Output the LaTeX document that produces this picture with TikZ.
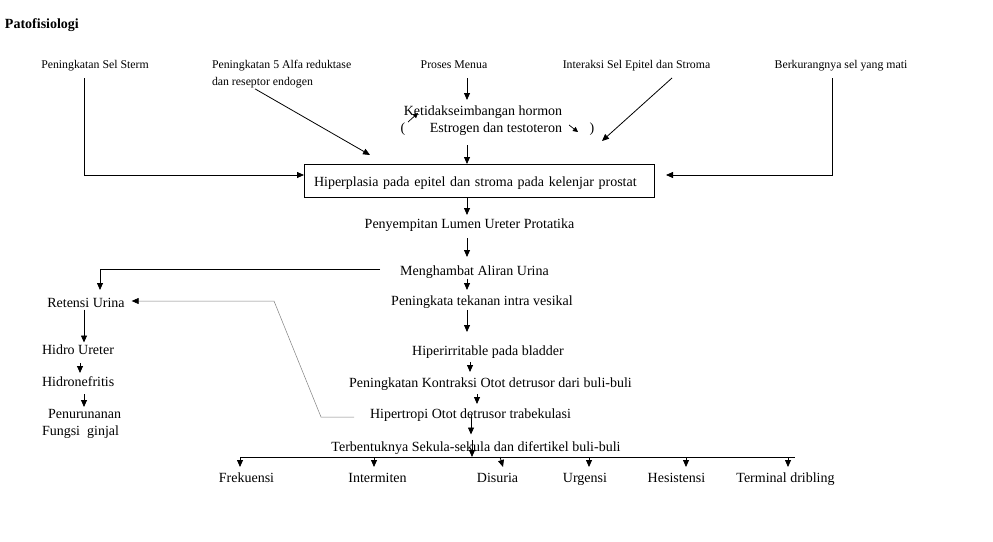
\documentclass[tikz,border=0pt]{standalone}
\usepackage{fontspec}
\setmainfont{Liberation Serif}
\usetikzlibrary{arrows.meta,calc}
\begin{document}
\begin{tikzpicture}[x=1pt,y=-1pt,
  txt/.style={inner sep=0pt,outer sep=0pt,font=\fontsize{14}{17}\selectfont,text height=12pt,text depth=1pt},
  sml/.style={inner sep=0pt,outer sep=0pt,font=\fontsize{11.8}{17}\selectfont,text height=10pt,text depth=1pt},
  arr/.style={line width=0.8pt,-{Triangle[length=7pt,width=6pt]}},
  tiny/.style={line width=0.7pt,-{Triangle[length=5pt,width=5pt]}},
  ln/.style={line width=0.8pt},
  garr/.style={line width=0.5pt,draw=gray,-{Triangle[length=7pt,width=6pt,color=black]}},
]
\fill[white] (0,0) rectangle (993,541);
\useasboundingbox (0,0) rectangle (993,541);

% title
\node[txt,anchor=west,font=\bfseries\fontsize{14}{17}\selectfont] (title) at (5,23) {Patofisiologi};

% top causes
\node[sml] (s1) at (95,64) {Peningkatan Sel Sterm};
\node[inner sep=0pt,outer sep=0pt,font=\fontsize{11.8}{17}\selectfont,align=left,anchor=north west] (s2) at (212,60) {Peningkatan 5 Alfa reduktase\\dan reseptor endogen};
\node[sml] (s3) at (454,64) {Proses Menua};
\node[sml] (s4) at (636.5,64) {Interaksi Sel Epitel dan Stroma};
\node[sml] (s5) at (841,64) {Berkurangnya sel yang mati};

% hormone
\node[txt] (hor1) at (483,110) {Ketidakseimbangan hormon};
\node[txt] (hor2) at (496,127) {Estrogen dan testoteron};
\node[txt] (lp) at (403,127) {(};
\node[txt] (rp) at (592,127) {)};
\draw[tiny] (408,122) -- (418,113);
\draw[tiny] (569,125) -- (578,132);

% box
\node[draw,line width=0.8pt,txt,text width=330pt,align=left,inner xsep=10pt,minimum height=33pt] (box) at (479,180.5) {Hiperplasia pada epitel dan stroma pada kelenjar prostat};

% main column
\node[txt] (peny) at (469.5,223) {Penyempitan Lumen Ureter Protatika};
\node[txt] (meng) at (474.5,270) {Menghambat Aliran Urina};
\node[txt] (pen) at (482,300) {Peningkata tekanan intra vesikal};
\node[txt] (hipirr) at (488,350) {Hiperirritable pada bladder};
\node[txt] (kon) at (490.5,382) {Peningkatan Kontraksi Otot detrusor dari buli-buli};
\node[txt] (hipt) at (470.5,413) {Hipertropi Otot detrusor trabekulasi};
\node[txt] (ter) at (476,446) {Terbentuknya Sekula-sekula dan difertikel buli-buli};

% bottom symptoms
\node[txt] (fre) at (246.5,477) {Frekuensi};
\node[txt] (int) at (377.5,477) {Intermiten};
\node[txt] (dis) at (497.5,477) {Disuria};
\node[txt] (urg) at (585,477) {Urgensi};
\node[txt] (hes) at (676.5,477) {Hesistensi};
\node[txt] (term) at (785.5,477) {Terminal dribling};

% left column
\node[txt] (ret) at (86,302) {Retensi Urina};
\node[txt,anchor=west] (hid) at (42,349) {Hidro Ureter};
\node[txt,anchor=west] (hidn) at (42,381) {Hidronefritis};
\node[inner sep=0pt,outer sep=0pt,font=\fontsize{14}{17}\selectfont,align=left,anchor=north west] (pen2) at (42,409.5) {\hspace*{6pt}Penurunanan\\Fungsi\ \ ginjal};

% connectors top
\draw[arr] ($(s1.south -| 84,0)+(0,8.5)$) |- (box.west |- 0,175);
\coordinate (t2) at (370,155);
\draw[arr] ($(s2.south -| 255,0)+(0,1)$) -- (t2);
\draw[arr] ($(s3.south -| 467,0)+(0,8.5)$) -- ($(hor1.north -| 467,0)+(0,-3.5)$);
\draw[arr] ($(hor2.south -| 467,0)+(0,11.5)$) -- (box.north -| 467,0);
\coordinate (t4) at (602,141);
\draw[arr] ($(s4.south -| 672,0)+(0,8.5)$) -- (t4);
\draw[arr] ($(s5.south -| 832,0)+(0,8.5)$) |- ($(box.east |- 0,175)+(12,0)$);

% main column connectors
\draw[arr] (box.south -| 467,0) -- ($(peny.north -| 467,0)+(0,-1.5)$);
\draw[arr] ($(peny.south -| 467,0)+(0,8.5)$) -- ($(meng.north -| 467,0)+(0,-6.5)$);
\draw[arr] ($(meng.west)+(-20,-1)$) -| ($(ret.north -| 100,0)+(0,-5.5)$);
\draw[arr] ($(meng.south -| 467,0)+(0,2.5)$) -- ($(pen.north -| 467,0)+(0,-3.5)$);
\draw[arr] ($(pen.south -| 467,0)+(0,3.5)$) -- ($(hipirr.north -| 467,0)+(0,-11.5)$);
\draw[arr] ($(hipirr.south -| 470,0)+(0,5.5)$) -- ($(kon.north -| 470,0)+(0,-3.5)$);
\draw[arr] ($(kon.south -| 477,0)+(0,5.5)$) -- ($(hipt.north -| 477,0)+(0,-2.5)$);
\draw[arr] ($(hipt.center -| 471,0)+(0,2)$) -- ($(ter.north -| 471,0)+(0,-5)$);

% bottom distribution
\coordinate (bl) at (240,457);
\coordinate (br) at (795,457);
\draw[arr] (ter.north -| 472,0) -- (bl -| 472,0);
\draw[ln] (bl) -- (br);
\draw[arr] (bl) -- ($(fre.north -| bl)+(0,-3.5)$);
\draw[arr] (bl -| 374,0) -- ($(int.north -| 374,0)+(0,-3.5)$);
\draw[arr] (bl -| 500,0) -- ($(dis.north)+(5.5,-3.5)$);
\draw[arr] (bl -| 589,0) -- ($(urg.north -| 589,0)+(0,-3.5)$);
\draw[arr] (bl -| 686,0) -- ($(hes.north -| 686,0)+(0,-3.5)$);
\draw[arr] (bl -| 788,0) -- ($(term.north -| 788,0)+(0,-3.5)$);

% feedback line to retention
\draw[garr] ($(hipt.west)+(-16,4)$) -- ++(-33,0) -- ++(-47,-116) -- ($(ret.east)+(7,-1)$);

% left column connectors
\draw[arr] ($(ret.south -| 84,0)+(0,1)$) -- (hid.north -| 84,0);
\draw[arr] ($(hid.south -| 80,0)+(0,7.5)$) -- ($(hidn.north -| 80,0)+(0,-1.5)$);
\draw[arr] ($(hidn.south -| 84,0)+(0,6.5)$) -- ($(pen2.north -| 84,0)+(0,-2.5)$);
\end{tikzpicture}
\end{document}
